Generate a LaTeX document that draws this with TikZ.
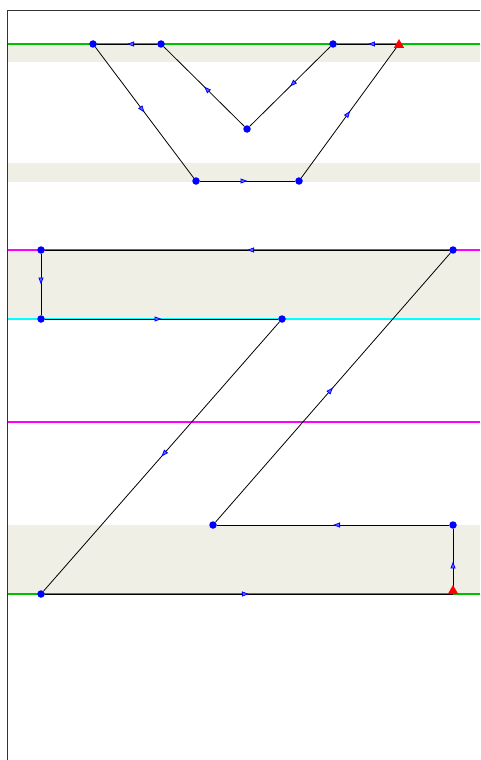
\documentclass[tikz,border=0pt]{standalone}
\usetikzlibrary{arrows.meta,decorations.markings,shapes.geometric}
\definecolor{bandcol}{HTML}{F0EFE5}
\definecolor{guidegreen}{HTML}{00BF00}
\definecolor{guidemagenta}{HTML}{FF00FF}
\definecolor{guidecyan}{HTML}{00FFFF}
\definecolor{framecol}{HTML}{333333}
\tikzset{
  vtx/.style={circle, fill=blue, inner sep=0pt, minimum size=7.5pt},
  startvtx/.style={regular polygon, regular polygon sides=3, fill=red, inner sep=0pt, minimum size=12pt},
  seg/.style={black, line width=0.8pt, postaction={decorate},
    decoration={markings, mark=at position 0.5 with {\arrow{Triangle[length=7pt,width=5pt,color=blue,fill=blue!60]}}}},
  guide/.style={line width=1.6pt},
}
\begin{document}
\begin{tikzpicture}[x=1pt, y=-1pt]
  \useasboundingbox (0, 0) rectangle (480, 760);

  % bands
  \fill[bandcol] (8, 44) rectangle (480, 62);
  \fill[bandcol] (8, 163) rectangle (480, 182);
  \fill[bandcol] (8, 250) rectangle (480, 319);
  \fill[bandcol] (8, 525) rectangle (480, 594);

  % guide lines
  \draw[guide, guidegreen] (8, 44) -- (480, 44);
  \draw[guide, guidemagenta] (8, 250) -- (480, 250);
  \draw[guide, guidecyan] (8, 319) -- (480, 319);
  \draw[guide, guidemagenta] (8, 422) -- (480, 422);
  \draw[guide, guidegreen] (8, 594) -- (480, 594);

  % frame
  \draw[framecol, line width=0.9pt] (7.5, 760) -- (7.5, 10) -- (480, 10);

  % upper glyph
  \coordinate (u0) at (399, 44);
  \node[vtx] (u1) at (333, 44) {};
  \node[vtx] (u2) at (247, 129) {};
  \node[vtx] (u3) at (161, 44) {};
  \node[vtx] (u4) at (93, 44) {};
  \node[vtx] (u5) at (196, 181) {};
  \node[vtx] (u6) at (299, 181) {};
  \draw[seg] (u0) -- (u1);
  \draw[seg] (u1) -- (u2);
  \draw[seg] (u2) -- (u3);
  \draw[seg] (u3) -- (u4);
  \draw[seg] (u4) -- (u5);
  \draw[seg] (u5) -- (u6);
  \draw[seg] (u6) -- (u0);
  \node[startvtx] (u0mark) at (399, 45) {};

  % z glyph
  \coordinate (z0) at (453, 594);
  \node[vtx] (z1) at (453, 525) {};
  \node[vtx] (z2) at (213, 525) {};
  \node[vtx] (z3) at (453, 250) {};
  \node[vtx] (z4) at (41, 250) {};
  \node[vtx] (z5) at (41, 319) {};
  \node[vtx] (z6) at (282, 319) {};
  \node[vtx] (z7) at (41, 594) {};
  \draw[seg] (z0) -- (z1);
  \draw[seg] (z1) -- (z2);
  \draw[seg] (z2) -- (z3);
  \draw[seg] (z3) -- (z4);
  \draw[seg] (z4) -- (z5);
  \draw[seg] (z5) -- (z6);
  \draw[seg] (z6) -- (z7);
  \draw[seg] (z7) -- (z0);
  \node[startvtx] (z0mark) at (453, 591) {};
\end{tikzpicture}
\end{document}
